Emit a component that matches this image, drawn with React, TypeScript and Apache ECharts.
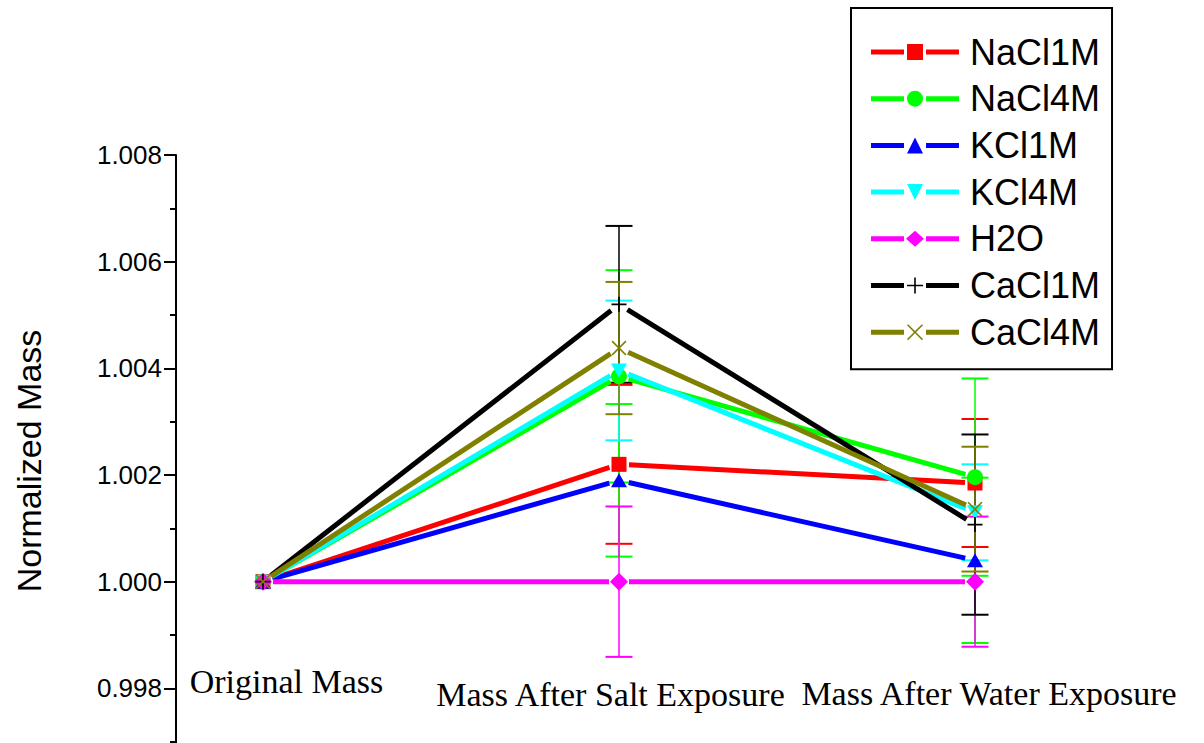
import React, { useEffect, useRef } from 'react';
import * as echarts from 'echarts';

const categories = ['Original Mass', 'Mass After Salt Exposure', 'Mass After Water Exposure'];
const seriesNames = ['NaCl1M', 'NaCl4M', 'KCl1M', 'KCl4M', 'H2O', 'CaCl1M', 'CaCl4M'];
const seriesColors = ['#ff0000', '#00ff00', '#0000ff', '#00ffff', '#ff00ff', '#000000', '#808000'];
const errorColors = ['#ff0000', '#00ff00', '#00ff00', '#00ffff', '#ff00ff', '#000000', '#808000'];

const NaCl1M = [1.0, 1.0022, 1.00185];
const NaCl4M = [1.0, 1.00385, 1.00196];
const KCl1M = [1.0, 1.0019, 1.0004];
const KCl4M = [1.0, 1.00396, 1.0013];
const H2O = [1.0, 1.0, 1.0];
const CaCl1M = [1.0, 1.0052, 1.00107];
const CaCl4M = [1.0, 1.00438, 1.00136];

const NaCl1M_err = [0, 0.00149, 0.0012];
const NaCl4M_err = [0, 0.00199, 0.00185];
const KCl1M_err = [0, 0.00143, 0.00155];
const KCl4M_err = [0, 0.00131, 0.0009];
const H2O_err = [0, 0.00141, 0.00122];
const CaCl1M_err = [0, 0.00147, 0.00169];
const CaCl4M_err = [0, 0.00124, 0.00117];

const yTicks = [0.996, 1.008, 0.002];

const allValues = [NaCl1M, NaCl4M, KCl1M, KCl4M, H2O, CaCl1M, CaCl4M];
const allErrors = [NaCl1M_err, NaCl4M_err, KCl1M_err, KCl4M_err, H2O_err, CaCl1M_err, CaCl4M_err];

const PLUS = 'path://M6.2,0H7.8V6.2H14V7.8H7.8V14H6.2V7.8H0V6.2H6.2Z';
const CROSS = 'path://M0,1.1L1.1,0L7,5.9L12.9,0L14,1.1L8.1,7L14,12.9L12.9,14L7,8.1L1.1,14L0,12.9L5.9,7Z';
const markerSymbols = ['rect', 'circle', 'triangle', 'triangle', 'diamond', PLUS, CROSS];
const markerSizes = [15, 16, [16, 14], [16, 14], [18, 18], 15, 15];
const markerRotate = [0, 0, 0, 180, 0, 0, 0];

const LINES = 'M0,5.5H33V10.5H0Z M55,5.5H88V10.5H55Z ';
const legendMarks = [
  'M36,0H52V16H36Z',
  'M36,8A8,8 0 1,0 52,8A8,8 0 1,0 36,8Z',
  'M44,0L52,16H36Z',
  'M36,0H52L44,16Z',
  'M44,0L53,8L44,16L35,8Z',
  'M43.2,0H44.8V7.2H52V8.8H44.8V16H43.2V8.8H36V7.2H43.2Z',
  'M36,1.1L37.1,0L44,6.9L50.9,0L52,1.1L45.1,8L52,14.9L50.9,16L44,9.1L37.1,16L36,14.9L42.9,8Z',
];

const GAP = 10;
const SANS = 'Liberation Sans';
const SERIF = 'Liberation Serif';

export default function App() {
  const ref = useRef<HTMLDivElement>(null);
  useEffect(() => {
    if (!ref.current) return;
    const chart = echarts.init(ref.current, undefined, { renderer: 'svg' });
    const series: any[] = [];
    seriesNames.forEach((name, si) => {
      const values = allValues[si];
      const errs = allErrors[si];
      const ecol = errorColors[si];
      series.push({
        type: 'custom',
        name: name + ' error',
        silent: true,
        z: 2,
        encode: { x: 0, y: 1 },
        data: values.map((v, i) => [i, v, errs[i]]),
        renderItem: (params: any, api: any) => {
          const x = api.value(0);
          const v = api.value(1);
          const e = api.value(2);
          if (!e) return { type: 'group', children: [] };
          const top = api.coord([x, v + e]);
          const bot = api.coord([x, v - e]);
          const hw = 13.5;
          return {
            type: 'group',
            children: [
              { type: 'line', shape: { x1: top[0], y1: top[1], x2: bot[0], y2: bot[1] }, style: { stroke: ecol, lineWidth: 1.5 } },
              { type: 'line', shape: { x1: top[0] - hw, y1: top[1], x2: top[0] + hw, y2: top[1] }, style: { stroke: ecol, lineWidth: 2 } },
              { type: 'line', shape: { x1: bot[0] - hw, y1: bot[1], x2: bot[0] + hw, y2: bot[1] }, style: { stroke: ecol, lineWidth: 2 } },
            ],
          };
        },
      });
    });
    seriesNames.forEach((name, si) => {
      const values = allValues[si];
      const col = seriesColors[si];
      const segs: number[][] = [];
      for (let i = 0; i < values.length - 1; i++) segs.push([i, values[i], i + 1, values[i + 1]]);
      series.push({
        type: 'custom',
        name: name + ' line',
        silent: true,
        z: 3,
        encode: { x: 0, y: 1 },
        data: segs,
        renderItem: (params: any, api: any) => {
          const p1 = api.coord([api.value(0), api.value(1)]);
          const p2 = api.coord([api.value(2), api.value(3)]);
          const dx = p2[0] - p1[0];
          const dy = p2[1] - p1[1];
          const len = Math.hypot(dx, dy) || 1;
          const ux = dx / len;
          const uy = dy / len;
          return {
            type: 'line',
            shape: { x1: p1[0] + ux * GAP, y1: p1[1] + uy * GAP, x2: p2[0] - ux * GAP, y2: p2[1] - uy * GAP },
            style: { stroke: col, lineWidth: 5 },
          };
        },
      });
    });
    seriesNames.forEach((name, si) => {
      series.push({
        type: 'line',
        name,
        z: 4,
        silent: true,
        data: allValues[si],
        symbol: markerSymbols[si],
        symbolSize: markerSizes[si],
        symbolRotate: markerRotate[si],
        showSymbol: true,
        itemStyle: { color: seriesColors[si], borderWidth: 0 },
        lineStyle: { width: 0, opacity: 0 },
        emphasis: { disabled: true },
      });
    });

    const option: any = {
      animation: false,
      grid: { left: 85, right: 51, top: 155, height: 640, outerBoundsMode: 'none', containLabel: false },
      legend: {
        orient: 'vertical',
        left: 851,
        top: 8,
        padding: [26, 12, 19, 20],
        itemGap: 10.7,
        itemWidth: 88,
        itemHeight: 16,
        borderColor: '#000',
        borderWidth: 2,
        selectedMode: false,
        itemStyle: { borderWidth: 0 },
        textStyle: { fontSize: 36, fontFamily: SANS, color: '#000', padding: [0, 0, 0, 6] },
        data: seriesNames.map((n, i) => ({ name: n, icon: 'path://' + LINES + legendMarks[i] })),
      },
      xAxis: {
        type: 'category',
        data: categories,
        boundaryGap: true,
        offset: -131,
        axisLine: { show: false },
        axisTick: { show: false },
        axisLabel: {
          interval: 0,
          margin: 0,
          color: '#000',
          fontFamily: SERIF,
          fontSize: 34,
          formatter: (value: string, idx: number) => `{c${idx}|${value}}`,
          rich: {
            c0: { fontFamily: SERIF, fontSize: 34, color: '#000', padding: [0, 0, 0, 47] },
            c1: { fontFamily: SERIF, fontSize: 34, color: '#000', padding: [13, 17, 0, 0] },
            c2: { fontFamily: SERIF, fontSize: 34, color: '#000', padding: [12, 0, 0, 28] },
          },
        },
        splitLine: { show: false },
      },
      yAxis: {
        type: 'value',
        min: yTicks[0],
        max: yTicks[1],
        interval: yTicks[2],
        offset: -91,
        name: 'Normalized Mass',
        nameLocation: 'middle',
        nameGap: 130,
        nameTextStyle: { fontSize: 34, fontFamily: SANS, color: '#000', padding: [0, 0, 0, 28] },
        axisLine: { show: true, lineStyle: { color: '#000', width: 2 } },
        axisTick: { show: true, length: 12, lineStyle: { color: '#000', width: 2 } },
        minorTick: { show: true, splitNumber: 2, length: 6, lineStyle: { color: '#000', width: 2 } },
        splitLine: { show: false },
        axisLabel: {
          color: '#000',
          fontFamily: SANS,
          fontSize: 26,
          margin: 14,
          showMinLabel: false,
          formatter: (v: number) => (v < 0.9971 ? '' : v.toFixed(3)),
        },
      },
      series,
    };
    chart.setOption(option);
    return () => chart.dispose();
  }, []);
  return <div ref={ref} style={{ position: 'absolute', left: 0, top: 0, width: 1204, height: 743 }} />;
}
